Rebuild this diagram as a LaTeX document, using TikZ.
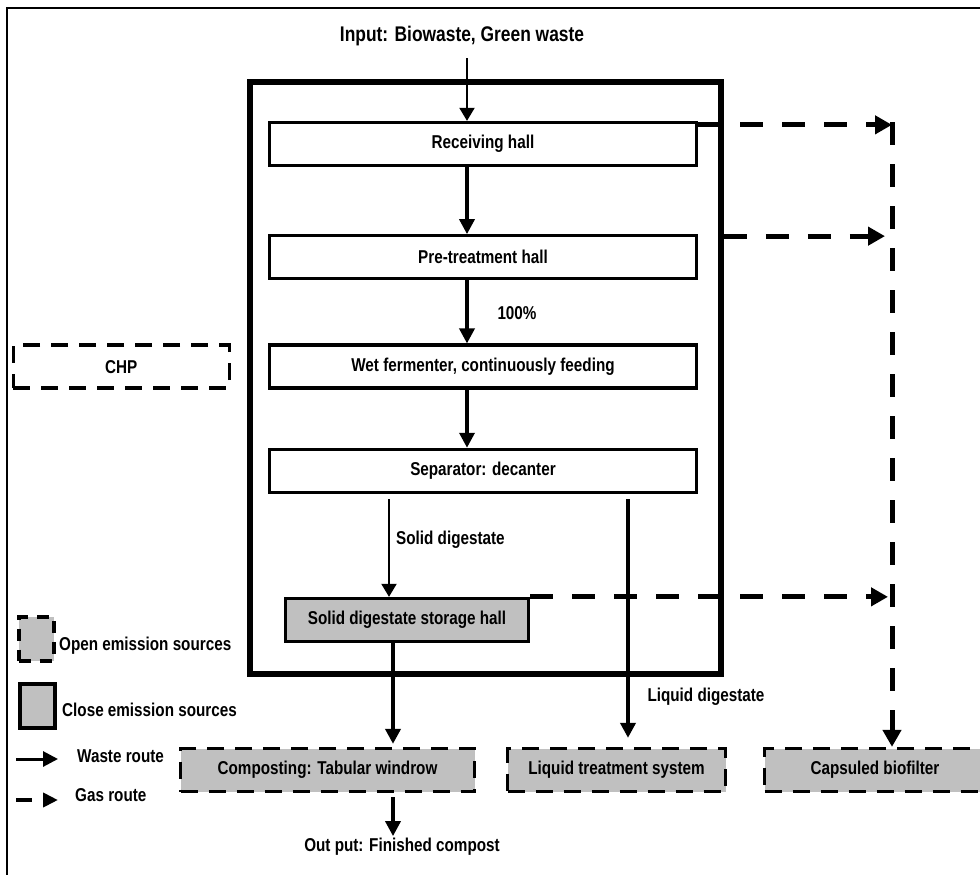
\documentclass[tikz,border=0pt]{standalone}
\usepackage{fontspec}
\setmainfont{Liberation Sans}[FakeStretch=0.82]
\usepackage{xcolor}
\usepackage{tikz}
\usetikzlibrary{positioning, arrows.meta}
\definecolor{srcgray}{HTML}{C0C0C0}

\begin{document}
\begin{tikzpicture}[
  x=1pt, y=-1pt,
  txt/.style={font=\fontsize{18.6}{20}\selectfont\bfseries, inner sep=2pt},
  box/.style={txt, draw, line width=3.3pt, minimum width=427pt, minimum height=43pt},
  closebox/.style={box, fill=srcgray},
  openbox/.style={box, fill=srcgray, dash pattern=on 17pt off 11pt},
  chpbox/.style={box, dash pattern=on 17pt off 11pt},
  legbox/.style={draw, fill=srcgray, line width=4pt, minimum width=35pt, minimum height=44pt, inner sep=0pt},
  waste/.style={line width=3.5pt, -{Triangle[length=15pt, width=15pt]}},
  thinwaste/.style={line width=2pt, -{Triangle[length=13pt, width=15pt]}},
  gasroute/.style={line width=5pt, dash pattern=on 23pt off 19pt, -{Triangle[length=17pt, width=18pt]}},
]
\useasboundingbox (0,0) rectangle (980,875);
\draw[line width=1.5pt] (7,8) rectangle (990,890);

\node[draw, line width=5.5pt, minimum width=471pt, minimum height=592pt, inner sep=0pt] (plant) at (485.5,378) {};

\node[txt, font=\fontsize{21.2}{23}\selectfont\bfseries] (inp) at (462,36) {Input: Biowaste, Green waste};
\node[box] (rec) at (483,144) {Receiving hall};
\node[box, below=67pt of rec] (pre) {Pre-treatment hall};
\node[box, below=63pt of pre] (wet) {Wet fermenter, continuously feeding};
\node[box, below=58pt of wet] (sep) {Separator: decanter};
\node[chpbox, minimum width=216pt, left=37pt of wet] (chp) {CHP};
\node[closebox, minimum width=243pt] (store) at (407,620) {Solid digestate storage hall};
\node[openbox, minimum width=294pt] (comp) at (327.5,770) {Composting: Tabular windrow};
\node[openbox, minimum width=218pt] (liq) at (616.5,770) {Liquid treatment system};
\node[openbox, minimum width=221pt] (bio) at (875,770) {Capsuled biofilter};
\node[txt] (out) at (402,847) {Out put: Finished compost};

\node[txt] (pct) at (517,313) {100\%};
\node[txt, anchor=west] (soliddig) at (394,540) {Solid digestate};
\node[txt] (liqdig) at (706,697) {Liquid digestate};

\coordinate (mainx) at (467,0);
\coordinate (solidx) at (389,0);
\coordinate (compx) at (393,0);
\coordinate (liqx) at (628,0);
\coordinate (gtop) at (892,122);

\draw[thinwaste, shorten <=10pt] (inp.south -| mainx) -- (rec.north -| mainx);
\draw[waste] (rec.south -| mainx) -- (pre.north -| mainx);
\draw[waste] (pre.south -| mainx) -- (wet.north -| mainx);
\draw[waste] (wet.south -| mainx) -- (sep.north -| mainx);
\draw[thinwaste, shorten <=5pt] (sep.south -| solidx) -- (store.north -| solidx);
\draw[waste, line width=4.5pt, shorten <=5pt, shorten >=9pt] (sep.south -| liqx) -- (liq.north -| liqx);
\draw[waste, line width=4pt, shorten >=3pt] (store.south -| compx) -- (comp.north -| compx);
\draw[waste, shorten <=4pt] (comp.south -| compx) -- (out.north -| compx);

\coordinate (g1) at ([yshift=-4pt]rec.north east);
\coordinate (g2) at ([yshift=-2pt]pre.north -| plant.east);
\coordinate (g3) at (store.north east);
\draw[gasroute] (g1) -- (g1 -| gtop);
\draw[gasroute, shorten >=7pt] (g2) -- (g2 -| gtop);
\draw[gasroute, shorten >=4pt] (g3) -- (g3 -| gtop);
\draw[gasroute] (gtop) -- (gtop |- bio.north);

\node[legbox, dash pattern=on 12pt off 9pt] (openleg) at (36,638.5) {};
\node[legbox] (closeleg) at (37,705.5) {};
\node[txt, anchor=west] (opentxt) at (57,646) {Open emission sources};
\node[txt, anchor=west] (closetxt) at (60,710) {Close emission sources};
\node[txt, anchor=west] (wastetxt) at (75,756) {Waste route};
\node[txt, anchor=west] (gastxt) at (73,795) {Gas route};
\coordinate (lw1) at (16,759);
\coordinate (lw2) at (58,759);
\coordinate (lg1) at (16,800);
\coordinate (lg2) at (58,800);
\draw[waste, line width=3pt] (lw1) -- (lw2);
\draw[line width=4.5pt, dash pattern=on 16pt off 20pt, -{Triangle[length=15pt, width=14pt]}] (lg1) -- (lg2);
\end{tikzpicture}
\end{document}
